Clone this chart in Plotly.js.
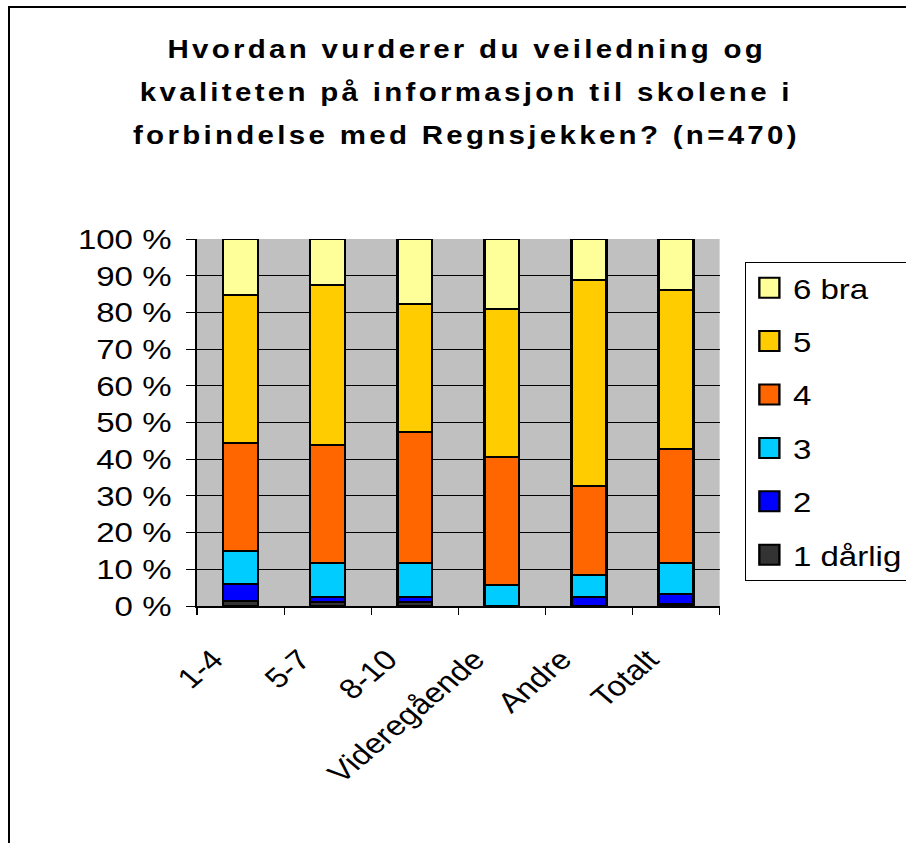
<!DOCTYPE html>
<html>
<head>
<meta charset="utf-8">
<script src="https://cdn.plot.ly/plotly-3.0.1.min.js"></script>
<style>
body{margin:0;padding:0;background:#fff;}
#wrap{position:relative;width:906px;height:843px;overflow:hidden;background:#fff;}
#chart{width:768px;height:843px;transform-origin:0 0;}
#frame{position:absolute;left:8px;top:6px;width:940px;height:900px;border:2px solid #000;pointer-events:none;box-sizing:border-box;}
#chart .annotation-text{letter-spacing:2.8px;}
</style>
</head>
<body>
<div id="wrap"><div id="chart"></div><div id="frame"></div></div>
<script>
const categories = ["1-4", "5-7", "8-10", "Videregående", "Andre", "Totalt"];
const seriesNames = ["1 dårlig", "2", "3", "4", "5", "6 bra"];
const s1 = [1.3, 1.2, 1.2, 0.0, 0.0, 0.5];
const s2 = [4.7, 1.3, 1.3, 0.0, 2.5, 2.8];
const s3 = [9.0, 9.2, 9.2, 5.7, 5.9, 8.5];
const s4 = [29.5, 32.3, 35.7, 34.9, 24.3, 31.0];
const s5 = [40.3, 43.5, 34.8, 40.4, 56.1, 43.2];
const s6 = [15.2, 12.5, 17.8, 19.0, 11.2, 14.0];
const colors = ["#333333", "#0000FF", "#00CCFF", "#FF6600", "#FFCC00", "#FFFF99"];
const yTicks = [0,10,20,30,40,50,60,70,80,90,100];
const titleLines = [
  "Hvordan vurderer du veiledning og",
  "kvaliteten på informasjon til skolene i",
  "forbindelse med Regnsjekken? (n=470)"
];

const seriesValues = [s1, s2, s3, s4, s5, s6];
const font = "Liberation Sans, Arial, sans-serif";

// The reference picture is horizontally stretched; the figure is drawn
// narrower and stretched with CSS by this factor.
const W = 906, H = 843, W0 = 768, S = W / W0;
const X = v => v / S;            // picture x -> unstretched x
const L = X(197), R = X(720), T = 239, B = 606;
const px = v => (X(v) - L) / (R - L);
const py = v => (B - v) / (B - T);

const traces = seriesValues.map((vals, i) => ({
  type: "bar",
  name: seriesNames[i],
  x: categories,
  y: vals,
  legendgroup: "g" + i,
  legendrank: 100 - i * 10,
  marker: {color: colors[i], line: {color: "#000000", width: 2}},
  hoverinfo: "x+y+name"
}));

const titleY = [49, 92, 135];
const annotations = titleLines.map((t, i) => ({
  text: "<b>" + t + "</b>",
  xref: "paper", yref: "paper",
  x: px(467), y: py(titleY[i]),
  xanchor: "center", yanchor: "middle",
  showarrow: false,
  font: {family: font, size: 25, color: "#000"}
}));

const layout = {
  width: W0, height: H,
  margin: {l: L, r: W0 - R, t: T, b: H - B, autoexpand: false},
  barmode: "stack",
  bargap: 0.6,
  paper_bgcolor: "#ffffff",
  plot_bgcolor: "#C0C0C0",
  font: {family: font, size: 28, color: "#000"},
  annotations: annotations,
  xaxis: {
    type: "category",
    tickangle: -45,
    tickson: "boundaries",
    ticks: "outside", ticklen: 7, tickcolor: "#000", tickwidth: 1,
    ticklabelstandoff: 24,
    ticklabelshift: -23,
    showline: true, linecolor: "#000", linewidth: 2,
    showgrid: false,
    tickfont: {family: font, size: 28, color: "#000"},
    fixedrange: true
  },
  yaxis: {
    range: [0, 100],
    tickvals: yTicks,
    ticktext: yTicks.map(v => v + " %"),
    ticks: "outside", ticklen: 7, tickcolor: "#000", tickwidth: 1,
    ticklabelstandoff: 7,
    showline: true, linecolor: "#000", linewidth: 2,
    showgrid: true, gridcolor: "#000", gridwidth: 1,
    zeroline: false,
    tickfont: {family: font, size: 28, color: "#000"},
    fixedrange: true
  },
  legend: {
    x: px(745), xanchor: "left",
    y: py(262), yanchor: "top",
    tracegroupgap: 14,
    entrywidth: 160,
    bgcolor: "#ffffff",
    bordercolor: "#000", borderwidth: 1,
    font: {family: font, size: 28, color: "#000"}
  },
  showlegend: true
};

Plotly.newPlot("chart", traces, layout, {displayModeBar: false, staticPlot: true}).then(() => {
  document.querySelectorAll("#chart .legendpoints path").forEach(p => {
    p.setAttribute("d", "M8.5,10H-8.5V-10H8.5Z");
    p.style.strokeWidth = "2px";
  });
  document.getElementById("chart").style.transform = "scaleX(" + S + ")";
});
</script>
</body>
</html>
